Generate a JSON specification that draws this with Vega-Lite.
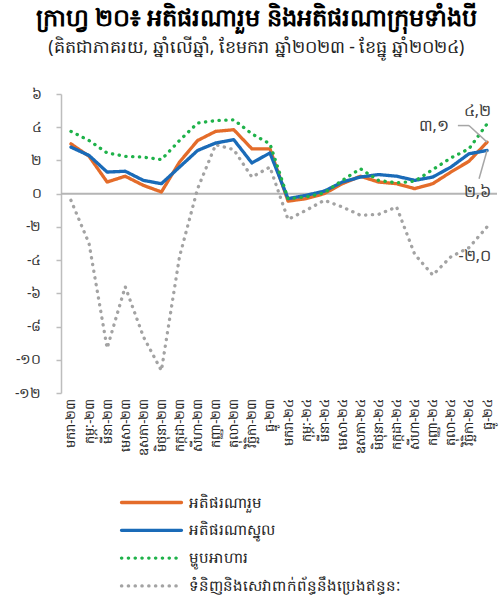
{
  "$schema": "https://vega.github.io/schema/vega-lite/v6.json",
  "width": 436,
  "height": 299,
  "padding": {"left": 14, "top": 6, "right": 4, "bottom": 4},
  "background": "white",
  "config": {
    "font": "Noto Sans",
    "view": {"stroke": null},
    "axisY": {"labelOverlap": false}
  },
  "title": {
    "text": "ក្រាហ្វ ២០៖ អតិផរណារួម និងអតិផរណាក្រុមទាំងបី",
    "subtitle": "(គិតជាភាគរយ, ឆ្នាំលើឆ្នាំ, ខែមករា ឆ្នាំ២០២៣ - ខែធ្នូ ឆ្នាំ២០២៤)",
    "fontSize": 24,
    "fontWeight": "bold",
    "color": "#000000",
    "subtitleFontSize": 17.5,
    "subtitleColor": "#222222",
    "subtitlePadding": 8,
    "anchor": "middle",
    "frame": "bounds",
    "offset": 31
  },
  "encoding": {
    "y": {
      "field": "value",
      "type": "quantitative",
      "scale": {"domain": [-12, 6], "nice": false, "zero": false},
      "axis": {
        "title": null,
        "values": [-12, -10, -8, -6, -4, -2, 0, 2, 4, 6],
        "labelExpr": "replace(replace(replace(replace(replace(replace(toString(datum.value),'0','០'),'1','១'),'2','២'),'4','៤'),'6','៦'),'8','៨')",
        "labelOverlap": false,
        "grid": false,
        "domainColor": "#bdbdbd",
        "domainWidth": 1.5,
        "tickColor": "#bdbdbd",
        "tickWidth": 1.5,
        "tickSize": 5,
        "labelPadding": 15,
        "labelFontSize": 14,
        "labelColor": "#333333"
      }
    }
  },
  "layer": [
    {
      "data": {"values": [{"value": 0}]},
      "mark": {"type": "rule", "color": "#b5b5b5", "strokeWidth": 2}
    },
    {
      "data": {
        "values": [
          {"month": "មករា-២៣", "អតិផរណារួម": 3.0, "អតិផរណាស្នូល": 2.8, "ម្ហូបអាហារ": 3.75, "ទំនិញនិងសេវាពាក់ព័ន្ធនឹងប្រេងឥន្ធនៈ": -0.4},
          {"month": "កុម្ភៈ-២៣", "អតិផរណារួម": 2.25, "អតិផរណាស្នូល": 2.3, "ម្ហូបអាហារ": 3.2, "ទំនិញនិងសេវាពាក់ព័ន្ធនឹងប្រេងឥន្ធនៈ": -3.0},
          {"month": "មីនា-២៣", "អតិផរណារួម": 0.7, "អតិផរណាស្នូល": 1.3, "ម្ហូបអាហារ": 2.45, "ទំនិញនិងសេវាពាក់ព័ន្ធនឹងប្រេងឥន្ធនៈ": -9.3},
          {"month": "មេសា-២៣", "អតិផរណារួម": 1.05, "អតិផរណាស្នូល": 1.35, "ម្ហូបអាហារ": 2.25, "ទំនិញនិងសេវាពាក់ព័ន្ធនឹងប្រេងឥន្ធនៈ": -5.6},
          {"month": "ឧសភា-២៣", "អតិផរណារួម": 0.5, "អតិផរណាស្នូល": 0.8, "ម្ហូបអាហារ": 2.2, "ទំនិញនិងសេវាពាក់ព័ន្ធនឹងប្រេងឥន្ធនៈ": -8.6},
          {"month": "មិថុនា-២៣", "អតិផរណារួម": 0.1, "អតិផរណាស្នូល": 0.6, "ម្ហូបអាហារ": 2.05, "ទំនិញនិងសេវាពាក់ព័ន្ធនឹងប្រេងឥន្ធនៈ": -10.65},
          {"month": "កក្កដា-២៣", "អតិផរណារួម": 1.9, "អតិផរណាស្នូល": 1.6, "ម្ហូបអាហារ": 3.2, "ទំនិញនិងសេវាពាក់ព័ន្ធនឹងប្រេងឥន្ធនៈ": -3.8},
          {"month": "សីហា-២៣", "អតិផរណារួម": 3.2, "អតិផរណាស្នូល": 2.6, "ម្ហូបអាហារ": 4.25, "ទំនិញនិងសេវាពាក់ព័ន្ធនឹងប្រេងឥន្ធនៈ": 0.3},
          {"month": "កញ្ញា-២៣", "អតិផរណារួម": 3.75, "អតិផរណាស្នូល": 3.05, "ម្ហូបអាហារ": 4.4, "ទំនិញនិងសេវាពាក់ព័ន្ធនឹងប្រេងឥន្ធនៈ": 2.95},
          {"month": "តុលា-២៣", "អតិផរណារួម": 3.85, "អតិផរណាស្នូល": 3.25, "ម្ហូបអាហារ": 4.45, "ទំនិញនិងសេវាពាក់ព័ន្ធនឹងប្រេងឥន្ធនៈ": 2.65},
          {"month": "វិច្ឆិកា-២៣", "អតិផរណារួម": 2.7, "អតិផរណាស្នូល": 1.85, "ម្ហូបអាហារ": 3.6, "ទំនិញនិងសេវាពាក់ព័ន្ធនឹងប្រេងឥន្ធនៈ": 1.0},
          {"month": "ធ្នូ-២៣", "អតិផរណារួម": 2.7, "អតិផរណាស្នូល": 2.45, "ម្ហូបអាហារ": 3.0, "ទំនិញនិងសេវាពាក់ព័ន្ធនឹងប្រេងឥន្ធនៈ": 1.6},
          {"month": "មករា-២៤", "អតិផរណារួម": -0.45, "អតិផរណាស្នូល": -0.3, "ម្ហូបអាហារ": -0.3, "ទំនិញនិងសេវាពាក់ព័ន្ធនឹងប្រេងឥន្ធនៈ": -1.55},
          {"month": "កុម្ភៈ-២៤", "អតិផរណារួម": -0.3, "អតិផរណាស្នូល": -0.1, "ម្ហូបអាហារ": -0.2, "ទំនិញនិងសេវាពាក់ព័ន្ធនឹងប្រេងឥន្ធនៈ": -1.0},
          {"month": "មីនា-២៤", "អតិផរណារួម": 0.0, "អតិផរណាស្នូល": 0.15, "ម្ហូបអាហារ": 0.05, "ទំនិញនិងសេវាពាក់ព័ន្ធនឹងប្រេងឥន្ធនៈ": -0.4},
          {"month": "មេសា-២៤", "អតិផរណារួម": 0.6, "អតិផរណាស្នូល": 0.7, "ម្ហូបអាហារ": 0.8, "ទំនិញនិងសេវាពាក់ព័ន្ធនឹងប្រេងឥន្ធនៈ": -0.8},
          {"month": "ឧសភា-២៤", "អតិផរណារួម": 1.05, "អតិផរណាស្នូល": 1.0, "ម្ហូបអាហារ": 1.5, "ទំនិញនិងសេវាពាក់ព័ន្ធនឹងប្រេងឥន្ធនៈ": -1.3},
          {"month": "មិថុនា-២៤", "អតិផរណារួម": 0.7, "អតិផរណាស្នូល": 1.15, "ម្ហូបអាហារ": 0.8, "ទំនិញនិងសេវាពាក់ព័ន្ធនឹងប្រេងឥន្ធនៈ": -1.25},
          {"month": "កក្កដា-២៤", "អតិផរណារួម": 0.6, "អតិផរណាស្នូល": 1.05, "ម្ហូបអាហារ": 0.65, "ទំនិញនិងសេវាពាក់ព័ន្ធនឹងប្រេងឥន្ធនៈ": -0.8},
          {"month": "សីហា-២៤", "អតិផរណារួម": 0.3, "អតិផរណាស្នូល": 0.8, "ម្ហូបអាហារ": 0.75, "ទំនិញនិងសេវាពាក់ព័ន្ធនឹងប្រេងឥន្ធនៈ": -3.65},
          {"month": "កញ្ញា-២៤", "អតិផរណារួម": 0.6, "អតិផរណាស្នូល": 1.0, "ម្ហូបអាហារ": 1.45, "ទំនិញនិងសេវាពាក់ព័ន្ធនឹងប្រេងឥន្ធនៈ": -4.9},
          {"month": "តុលា-២៤", "អតិផរណារួម": 1.3, "អតិផរណាស្នូល": 1.6, "ម្ហូបអាហារ": 2.15, "ទំនិញនិងសេវាពាក់ព័ន្ធនឹងប្រេងឥន្ធនៈ": -3.8},
          {"month": "វិច្ឆិកា-២៤", "អតិផរណារួម": 1.95, "អតិផរណាស្នូល": 2.4, "ម្ហូបអាហារ": 2.7, "ទំនិញនិងសេវាពាក់ព័ន្ធនឹងប្រេងឥន្ធនៈ": -3.25},
          {"month": "ធ្នូ-២៤", "អតិផរណារួម": 3.1, "អតិផរណាស្នូល": 2.6, "ម្ហូបអាហារ": 4.2, "ទំនិញនិងសេវាពាក់ព័ន្ធនឹងប្រេងឥន្ធនៈ": -2.0}
        ]
      },
      "transform": [
        {"fold": ["ទំនិញនិងសេវាពាក់ព័ន្ធនឹងប្រេងឥន្ធនៈ", "អតិផរណារួម", "អតិផរណាស្នូល", "ម្ហូបអាហារ"], "as": ["series", "value"]}
      ],
      "mark": {"type": "line", "strokeWidth": 3.3, "strokeJoin": "round", "strokeCap": "round"},
      "encoding": {
        "x": {
          "field": "month",
          "type": "ordinal",
          "scale": {
            "type": "point",
            "padding": 0.55,
            "domain": ["មករា-២៣", "កុម្ភៈ-២៣", "មីនា-២៣", "មេសា-២៣", "ឧសភា-២៣", "មិថុនា-២៣", "កក្កដា-២៣", "សីហា-២៣", "កញ្ញា-២៣", "តុលា-២៣", "វិច្ឆិកា-២៣", "ធ្នូ-២៣", "មករា-២៤", "កុម្ភៈ-២៤", "មីនា-២៤", "មេសា-២៤", "ឧសភា-២៤", "មិថុនា-២៤", "កក្កដា-២៤", "សីហា-២៤", "កញ្ញា-២៤", "តុលា-២៤", "វិច្ឆិកា-២៤", "ធ្នូ-២៤"]
          },
          "axis": {
            "title": null,
            "labelAngle": -90,
            "domain": false,
            "ticks": false,
            "grid": false,
            "labelPadding": 5,
            "labelFontSize": 13,
            "labelColor": "#222222",
            "labelOverlap": false
          }
        },
        "color": {
          "field": "series",
          "type": "nominal",
          "scale": {
            "domain": ["អតិផរណារួម", "អតិផរណាស្នូល", "ម្ហូបអាហារ", "ទំនិញនិងសេវាពាក់ព័ន្ធនឹងប្រេងឥន្ធនៈ"],
            "range": ["#E46C2A", "#1A6BB8", "#1FB24A", "#A3A3A3"]
          },
          "legend": {
            "title": null,
            "orient": "none",
            "legendX": 83,
            "legendY": 401,
            "direction": "vertical",
            "symbolType": "M-6,0H6",
            "symbolSize": 100,
            "symbolStrokeWidth": 3.3,
            "labelFontSize": 15,
            "labelColor": "#222222",
            "labelOffset": 30,
            "rowPadding": 11.8,
            "labelLimit": 400,
            "encode": {"symbols": {"update": {"strokeCap": {"value": "round"}}}}
          }
        },
        "strokeDash": {
          "field": "series",
          "type": "nominal",
          "scale": {
            "domain": ["អតិផរណារួម", "អតិផរណាស្នូល", "ម្ហូបអាហារ", "ទំនិញនិងសេវាពាក់ព័ន្ធនឹងប្រេងឥន្ធនៈ"],
            "range": [[1, 0], [1, 0], [0.3, 6.5], [0.3, 6.5]]
          },
          "legend": null
        }
      }
    },
    {
      "data": {"values": [{"month": "តុលា-២៤", "month2": "វិច្ឆិកា-២៤", "value": 4.1}]},
      "mark": {"type": "rule", "color": "#a6a6a6", "strokeWidth": 1.5, "xOffset": 7},
      "encoding": {
        "x": {"field": "month", "type": "ordinal"},
        "x2": {"field": "month2"}
      }
    },
    {
      "data": {"values": [{"month": "វិច្ឆិកា-២៤", "month2": "ធ្នូ-២៤", "value": 4.1, "value2": 3.1}]},
      "mark": {"type": "rule", "color": "#a6a6a6", "strokeWidth": 1.5},
      "encoding": {
        "x": {"field": "month", "type": "ordinal"},
        "x2": {"field": "month2"},
        "y2": {"field": "value2"}
      }
    },
    {
      "data": {"values": [{"month": "ធ្នូ-២៤", "month2": "ធ្នូ-២៤", "value": 0.9, "value2": 2.6}]},
      "mark": {"type": "rule", "color": "#a6a6a6", "strokeWidth": 1.5, "xOffset": -8},
      "encoding": {
        "x": {"field": "month", "type": "ordinal"},
        "x2": {"field": "month2"},
        "y2": {"field": "value2"}
      }
    },
    {
      "data": {
        "values": [
          {"month": "ធ្នូ-២៤", "value": 4.95, "label": "៤,២"},
          {"month": "ធ្នូ-២៤", "value": 0.1, "label": "២,៦"},
          {"month": "ធ្នូ-២៤", "value": -3.75, "label": "-២,០"}
        ]
      },
      "mark": {"type": "text", "align": "right", "baseline": "middle", "dx": 4, "fontSize": 16, "color": "#404040"},
      "encoding": {
        "x": {"field": "month", "type": "ordinal"},
        "text": {"field": "label"}
      }
    },
    {
      "data": {"values": [{"month": "តុលា-២៤", "value": 4.08, "label": "៣,១"}]},
      "mark": {"type": "text", "align": "right", "baseline": "middle", "dx": -2, "fontSize": 16, "color": "#404040"},
      "encoding": {
        "x": {"field": "month", "type": "ordinal"},
        "text": {"field": "label"}
      }
    }
  ]
}
